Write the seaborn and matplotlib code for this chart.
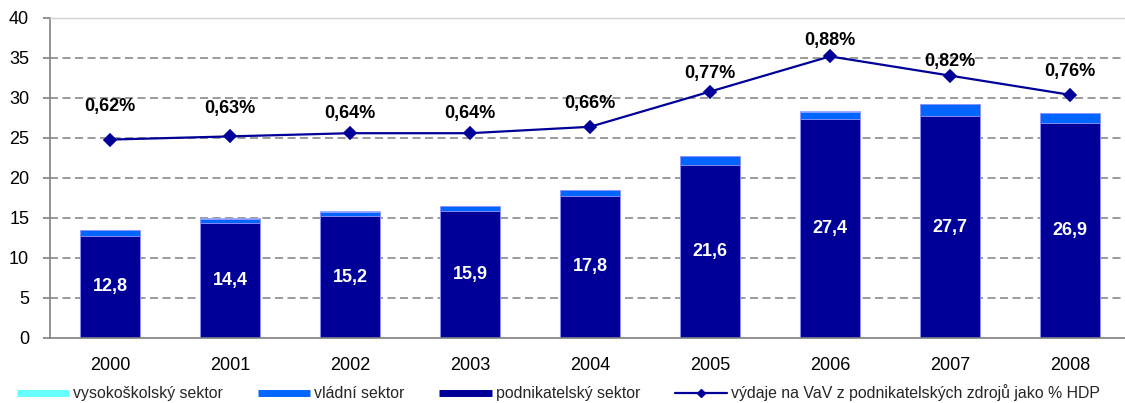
import matplotlib
matplotlib.use("Agg")
import matplotlib.pyplot as plt
from matplotlib.lines import Line2D
import seaborn as sns
import pandas as pd

years = ["2000", "2001", "2002", "2003", "2004", "2005", "2006", "2007", "2008"]
podnikatelsky = [12.8, 14.4, 15.2, 15.9, 17.8, 21.6, 27.4, 27.7, 26.9]
vladni = [0.65, 0.5, 0.6, 0.6, 0.7, 1.1, 0.9, 1.5, 1.2]
vysokoskolsky = [0.06, 0.06, 0.06, 0.06, 0.06, 0.06, 0.06, 0.06, 0.06]
pct_hdp = [0.62, 0.63, 0.64, 0.64, 0.66, 0.77, 0.88, 0.82, 0.76]
yticks = [0, 5, 10, 15, 20, 25, 30, 35, 40]

# label offsets above line points (pixels) - layout only
pct_label_offsets_px = [33, 28, 20, 20, 23, 18, 16, 14, 23]

sns.set_style("white")
plt.rcParams["font.family"] = ["Liberation Sans", "DejaVu Sans"]
plt.rcParams["lines.scale_dashes"] = False

C_DARK = "#000099"
C_BLUE = "#0066FF"
C_CYAN = "#66FFFF"
EDGE = "#9a9aff"

df = pd.DataFrame({
    "year": years,
    "pod": podnikatelsky,
    "vl": vladni,
    "vs": vysokoskolsky,
    "pct": pct_hdp,
})
df["pod_vl"] = df["pod"] + df["vl"]
df["total"] = df["pod_vl"] + df["vs"]

fig = plt.figure(figsize=(11.25, 4.03), dpi=100)
ax = fig.add_axes([50 / 1125, 65 / 403, 1080 / 1125, 320 / 403])

common = dict(x="year", ax=ax, width=0.5, saturation=1, errorbar=None,
              edgecolor=EDGE, linewidth=0.6, order=years)
sns.barplot(data=df, y="total", color=C_CYAN, **common)
sns.barplot(data=df, y="pod_vl", color=C_BLUE, **common)
sns.barplot(data=df, y="pod", color=C_DARK, **common)

ax.set_ylim(0, 40)
ax.set_xlim(-0.5, len(years) - 0.5)
ax.set_yticks(yticks)
ax.set_xlabel("")
ax.set_ylabel("")

# bar value labels
for i, v in enumerate(podnikatelsky):
    ax.text(i, v / 2, f"{v:.1f}".replace(".", ","), ha="center", va="center",
            color="white", fontsize=13, fontweight="bold")

# grid
ax.set_axisbelow(True)
ax.yaxis.grid(True, color="#808080", linewidth=1.1, linestyle=(0, (5.8, 3.2)))
ax.xaxis.grid(False)

# spines
ax.spines["right"].set_visible(False)
ax.spines["top"].set_color("#d0d0d0")
ax.spines["top"].set_linewidth(1.0)
ax.spines["left"].set_color("#808080")
ax.spines["bottom"].set_color("#808080")
ax.spines["left"].set_linewidth(1.2)
ax.spines["bottom"].set_linewidth(1.2)

# line on hidden secondary axis
ax2 = ax.twinx()
sns.pointplot(x=years, y=pct_hdp, ax=ax2, color=C_DARK, markers="D",
              markersize=6.5, linewidth=1.6, errorbar=None, order=years)
ax2.set_ylim(0, 1.0)
ax2.set_xlim(-0.5, len(years) - 0.5)
ax2.set_yticks([])
ax2.set_ylabel("")
for s in ax2.spines.values():
    s.set_visible(False)

for i, (p, off) in enumerate(zip(pct_hdp, pct_label_offsets_px)):
    ax2.annotate(f"{p:.2f}".replace(".", ",") + "%", xy=(i, p),
                 xytext=(0, off * 0.72), textcoords="offset points",
                 ha="center", va="center", fontsize=13, fontweight="bold",
                 color="black")

# ticks
ax.set_xticks(range(len(years)))
ax.set_xticklabels(years)
ax.set_xticks([i - 0.5 for i in range(len(years) + 1)], minor=True)
ax.tick_params(axis="x", which="major", length=0, pad=14, labelsize=13, colors="black")
ax.tick_params(axis="x", which="minor", length=4, width=1.2, color="#808080", direction="out")
ax.tick_params(axis="y", which="major", length=5, width=1.2, color="#808080",
               direction="out", pad=10, labelsize=13, labelcolor="black")

fig.canvas.draw()
gl = ax.get_ygridlines()
if gl:
    gl[-1].set_visible(False)
    gl[0].set_visible(False)

# legend
handles = [
    Line2D([0], [0], color=C_CYAN, lw=5, solid_capstyle="butt"),
    Line2D([0], [0], color=C_BLUE, lw=5, solid_capstyle="butt"),
    Line2D([0], [0], color=C_DARK, lw=5, solid_capstyle="butt"),
    Line2D([0], [0], color=C_DARK, lw=1.6, marker="D", markersize=4.5),
]
labels = ["vysokoškolský sektor", "vládní sektor", "podnikatelský sektor",
          "výdaje na VaV z podnikatelských zdrojů jako % HDP"]
fig.legend(handles, labels, loc="center left", bbox_to_anchor=(17 / 1125, 10 / 403),
           ncol=4, frameon=False, fontsize=11.4, handlelength=3.3,
           handletextpad=0.25, columnspacing=2.2, borderpad=0, borderaxespad=0)

fig.savefig("out.png", dpi=100)
